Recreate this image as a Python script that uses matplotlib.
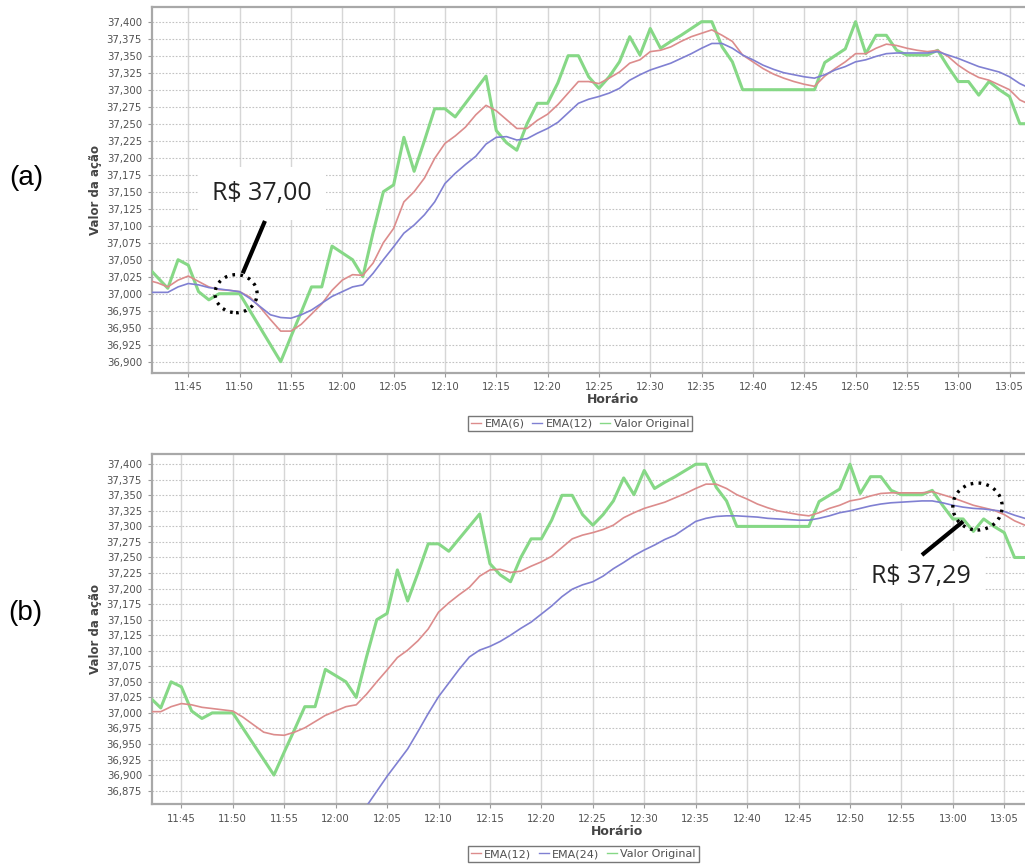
import numpy as np
import pandas as pd
import matplotlib
matplotlib.use("Agg")
import matplotlib.pyplot as plt
import matplotlib.dates as mdates
from matplotlib.patches import Ellipse
from matplotlib.lines import Line2D
from matplotlib.ticker import FuncFormatter, MultipleLocator

# one sample per minute, 11:41 .. 13:07
horario = pd.date_range("2013-01-01 11:41", "2013-01-01 13:07", freq="min")
# tick marks every 5 minutes (the image is cropped right after 13:05)
marcas = pd.date_range("2013-01-01 11:45", "2013-01-01 13:05", freq="5min")

valor_original = [
    37.040, 37.024, 37.008, 37.050, 37.042, 37.003, 36.991, 37.000, 37.000, 37.000,
    36.975, 36.950, 36.925, 36.900, 36.937, 36.973, 37.010, 37.010, 37.070, 37.060,
    37.050, 37.025, 37.090, 37.150, 37.160, 37.230, 37.180, 37.225, 37.272, 37.272,
    37.260, 37.280, 37.300, 37.320, 37.240, 37.222, 37.211, 37.250, 37.280, 37.280,
    37.310, 37.350, 37.350, 37.319, 37.302, 37.319, 37.341, 37.378, 37.351, 37.390,
    37.361, 37.371, 37.380, 37.390, 37.400, 37.400, 37.363, 37.341, 37.300, 37.300,
    37.300, 37.300, 37.300, 37.300, 37.300, 37.300, 37.340, 37.350, 37.360, 37.400,
    37.353, 37.380, 37.380, 37.358, 37.351, 37.351, 37.351, 37.358, 37.334, 37.312,
    37.312, 37.292, 37.312, 37.300, 37.290, 37.250, 37.250,
]

ema6 = [
    37.020, 37.016, 37.010, 37.020, 37.026, 37.018, 37.010, 37.006, 37.005, 37.003,
    36.995, 36.980, 36.962, 36.945, 36.945, 36.955, 36.970, 36.985, 37.005, 37.020,
    37.028, 37.027, 37.045, 37.075, 37.096, 37.135, 37.150, 37.170, 37.199, 37.221,
    37.232, 37.245, 37.263, 37.277, 37.269, 37.256, 37.243, 37.243, 37.255, 37.264,
    37.278, 37.295, 37.312, 37.312, 37.309, 37.317, 37.326, 37.339, 37.344, 37.356,
    37.358, 37.363, 37.371, 37.378, 37.383, 37.388, 37.380, 37.371, 37.351, 37.341,
    37.331, 37.323, 37.317, 37.312, 37.308, 37.305, 37.320, 37.331, 37.341, 37.353,
    37.353, 37.361, 37.367, 37.365, 37.361, 37.358, 37.356, 37.358, 37.349, 37.336,
    37.326, 37.318, 37.314, 37.307, 37.300, 37.285, 37.278,
]

ema12 = [
    37.002, 37.002, 37.002, 37.010, 37.015, 37.013, 37.009, 37.007, 37.005, 37.003,
    36.993, 36.981, 36.969, 36.965, 36.964, 36.969, 36.976, 36.986, 36.996, 37.003,
    37.010, 37.013, 37.030, 37.050, 37.069, 37.089, 37.101, 37.116, 37.135, 37.162,
    37.177, 37.190, 37.202, 37.220, 37.230, 37.231, 37.226, 37.228, 37.236, 37.243,
    37.252, 37.266, 37.280, 37.286, 37.290, 37.295, 37.302, 37.314, 37.322, 37.329,
    37.334, 37.339, 37.346, 37.353, 37.361, 37.368, 37.368, 37.361, 37.351, 37.344,
    37.336, 37.330, 37.325, 37.322, 37.319, 37.317, 37.322, 37.329, 37.334, 37.341,
    37.344, 37.349, 37.353, 37.354, 37.354, 37.354, 37.354, 37.356, 37.351, 37.346,
    37.340, 37.334, 37.330, 37.326, 37.319, 37.309, 37.302,
]

# EMA(24) only shows up from ~12:03 (below the axis before that)
ema24 = [np.nan] * 21 + [
    36.826, 36.850, 36.874, 36.898, 36.920, 36.942, 36.970, 36.999, 37.026, 37.048,
    37.070, 37.090, 37.101, 37.107, 37.115, 37.125, 37.136, 37.146, 37.159, 37.172,
    37.187, 37.199, 37.206, 37.211, 37.220, 37.232, 37.242, 37.253, 37.262, 37.270,
    37.279, 37.286, 37.297, 37.308, 37.313, 37.316, 37.317, 37.317, 37.316, 37.315,
    37.313, 37.312, 37.311, 37.310, 37.310, 37.313, 37.317, 37.322, 37.325, 37.329,
    37.333, 37.336, 37.338, 37.339, 37.340, 37.341, 37.341, 37.338, 37.334, 37.331,
    37.329, 37.328, 37.326, 37.324, 37.318, 37.313,
]

RED = "#dc8c8c"
BLUE = "#8080d2"
GREEN = "#86d886"
TXT = "#505050"


def t(hhmm, sec=0):
    return pd.Timestamp(f"2013-01-01 {hhmm}") + pd.Timedelta(seconds=sec)


def setup_axes(ax, xlim, ylim):
    ax.set_xlim(xlim)
    ax.set_ylim(ylim)
    ax.set_facecolor("white")
    ax.set_xticks(marcas)
    ax.xaxis.set_major_formatter(mdates.DateFormatter("%H:%M"))
    ax.yaxis.set_major_locator(MultipleLocator(0.025))
    ax.yaxis.set_major_formatter(FuncFormatter(lambda v, p: f"{v:.3f}".replace(".", ",")))
    ax.tick_params(axis="both", labelsize=7.3, colors="#9a9a9a", labelcolor=TXT,
                   length=3, width=0.8, pad=4)
    ax.grid(axis="x", color="#d6d6d6", lw=1.0, ls="-", zorder=0)
    ax.grid(axis="y", color="#c2c2c2", lw=0.8, ls=(0, (1.5, 1.5)), zorder=0)
    for s in ax.spines.values():
        s.set_color("#a8a8a8")
        s.set_linewidth(1.6)


def add_legend(labels, colors, anchor):
    handles = [Line2D([], [], color=c, lw=1.0) for c in colors]
    fig.legend(handles, labels, loc="center", ncol=3, bbox_to_anchor=anchor,
               fontsize=8, frameon=True, fancybox=False, edgecolor="#555555",
               handlelength=0.9, handletextpad=0.3, columnspacing=0.7,
               borderpad=0.25, labelcolor=TXT)


fig = plt.figure(figsize=(10.25, 8.65), dpi=100)

# ---- (a) EMA(6) / EMA(12) ----
ax1 = fig.add_axes([0.148, 0.5691, 0.900, 0.4231])
setup_axes(ax1, (t("11:41", 26), t("13:11", 18)), (36.8838, 37.422))
ax1.plot(horario, valor_original, color=GREEN, lw=2.2, zorder=3)
ax1.plot(horario, ema6, color=RED, lw=1.2, zorder=4)
ax1.plot(horario, ema12, color=BLUE, lw=1.2, zorder=4)

ax1.text(mdates.date2num(t("11:52", 12)), 37.147, "R$ 37,00", fontsize=18,
         family="Open Sans", color="#222222", ha="center", va="center", zorder=5,
         bbox=dict(boxstyle="square,pad=0.55", fc="white", ec="none"))
ax1.plot([t("11:52", 28), t("11:50", 18)], [37.107, 37.030], color="black",
         lw=3, solid_capstyle="butt", zorder=6)
ax1.add_patch(Ellipse((mdates.date2num(t("11:49", 39)), 37.000), width=4.1 / 1440,
                      height=0.056, fill=False, ec="black", lw=2.4,
                      ls=(0, (0.8, 1.6)), zorder=6))

add_legend(["EMA(6)", "EMA(12)", "Valor Original"], [RED, BLUE, GREEN], (0.566, 0.5104))
fig.text(0.598, 0.5376, "Horário", fontsize=9, weight="bold", color="#444444",
         ha="center", va="center")
fig.text(0.093, 0.780, "Valor da ação", fontsize=8.5, weight="bold", color="#444444",
         rotation=90, ha="center", va="center")
fig.text(0.026, 0.794, "(a)", fontsize=20, family="Liberation Sans", ha="center",
         va="center")

# ---- (b) EMA(12) / EMA(24) ----
ax2 = fig.add_axes([0.148, 0.0702, 0.900, 0.4046])
setup_axes(ax2, (t("11:42", 7), t("13:11", 48)), (36.853, 37.416))
ax2.plot(horario, valor_original, color=GREEN, lw=2.2, zorder=3)
ax2.plot(horario, ema12, color=RED, lw=1.2, zorder=4)
ax2.plot(horario, ema24, color=BLUE, lw=1.2, zorder=4)

ax2.text(mdates.date2num(t("12:56", 54)), 37.219, "R$ 37,29", fontsize=18,
         family="Open Sans", color="#222222", ha="center", va="center", zorder=5,
         bbox=dict(boxstyle="square,pad=0.55", fc="white", ec="none"))
ax2.plot([t("12:57", 0), t("13:01", 0)], [37.254, 37.308], color="black",
         lw=3, solid_capstyle="butt", zorder=6)
ax2.add_patch(Ellipse((mdates.date2num(t("13:02", 24)), 37.332), width=4.8 / 1440,
                      height=0.0756, fill=False, ec="black", lw=2.4,
                      ls=(0, (0.8, 1.6)), zorder=6))

add_legend(["EMA(12)", "EMA(24)", "Valor Original"], [RED, BLUE, GREEN], (0.569, 0.0127))
fig.text(0.602, 0.0382, "Horário", fontsize=9, weight="bold", color="#444444",
         ha="center", va="center")
fig.text(0.093, 0.273, "Valor da ação", fontsize=8.5, weight="bold", color="#444444",
         rotation=90, ha="center", va="center")
fig.text(0.025, 0.291, "(b)", fontsize=20, family="Liberation Sans", ha="center",
         va="center")

fig.savefig("out.png", dpi=100, facecolor="white")
